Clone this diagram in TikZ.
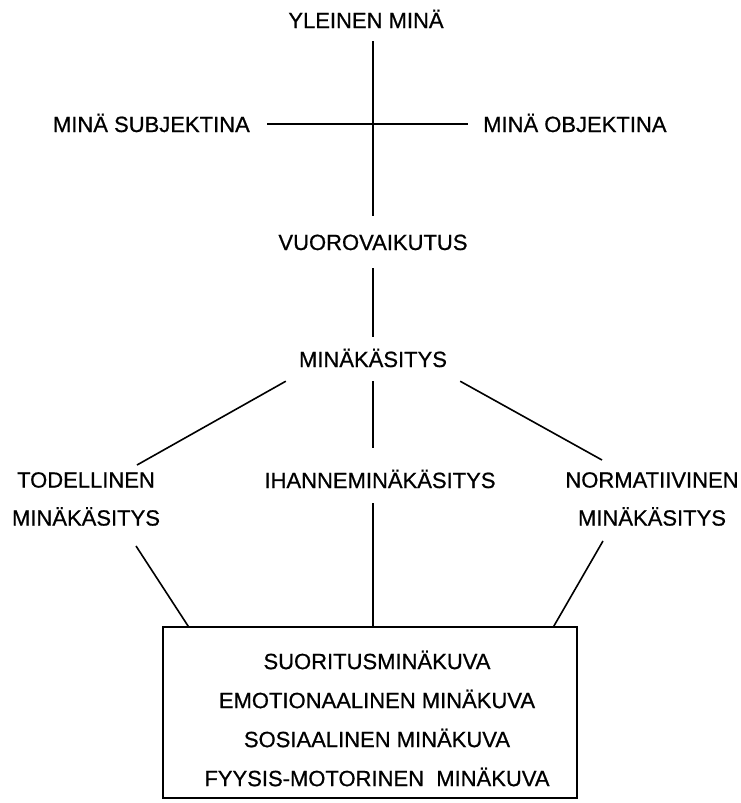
\documentclass[tikz,border=0pt]{standalone}
\usepackage{fontspec}
\setmainfont[FakeBold=0.7]{Liberation Sans}
\tikzset{
  txt/.style={font=\fontsize{22}{38}\selectfont,inner sep=0pt},
  word/.style={txt,text height=16pt,text depth=0pt},
  link/.style={line width=1.6pt}
}
\begin{document}
\begin{tikzpicture}[x=1pt,y=-1pt]
      \useasboundingbox (0,0) rectangle (741,803);
      \node[word,inner ysep=13pt](yleinen) at (366,20){YLEINEN MINÄ};
      \node[word,inner xsep=17pt,anchor=east](subj) at (267,124){MINÄ SUBJEKTINA};
      \node[word,inner xsep=15pt,anchor=west](obj) at (468,124){MINÄ OBJEKTINA};
      \node[word,inner ysep=18pt](vuoro) at (373,242){VUOROVAIKUTUS};
      \node[word,inner xsep=13pt,inner ysep=14pt](mk) at (373,359){MINÄKÄSITYS};
      \node[txt,align=center,anchor=north](tod) at (86,472){TODELLINEN\\MINÄKÄSITYS};
      \node[word,inner ysep=15pt](ihanne) at (380,480){IHANNEMINÄKÄSITYS};
      \node[txt,align=center,anchor=north](norm) at (652,472){NORMATIIVINEN\\MINÄKÄSITYS};
      \node[draw,link,minimum width=414pt,minimum height=171pt](box) at (370,712.5){};
      \node[txt,font=\fontsize{22}{39}\selectfont,align=center](kuvat) at (377,718.5){
        SUORITUSMINÄKUVA\\
        EMOTIONAALINEN MINÄKUVA\\
        SOSIAALINEN MINÄKUVA\\
        FYYSIS-MOTORINEN\ \ MINÄKUVA};
      \draw[link] (yleinen.south -| vuoro.north) -- (vuoro.north);
      \draw[link] (subj) -- (obj);
      \draw[link] (vuoro) -- (mk);
      \draw[link] (mk.south west) -- ([xshift=51pt,yshift=7pt]tod.north);
      \draw[link,shorten >=9pt] (mk.south) -- (ihanne.north -| mk.south);
      \draw[link] (mk.south east) -- ([xshift=-50pt,yshift=12pt]norm.north);
      \draw[link] ([xshift=50pt,yshift=-20pt]tod.south) -- ([xshift=26pt]box.north west);
      \draw[link] (ihanne.south -| mk.south) -- (box.north -| mk.south);
      \draw[link] ([xshift=-49pt,yshift=-15pt]norm.south) -- ([xshift=-24pt]box.north east);
    \end{tikzpicture}
\end{document}
